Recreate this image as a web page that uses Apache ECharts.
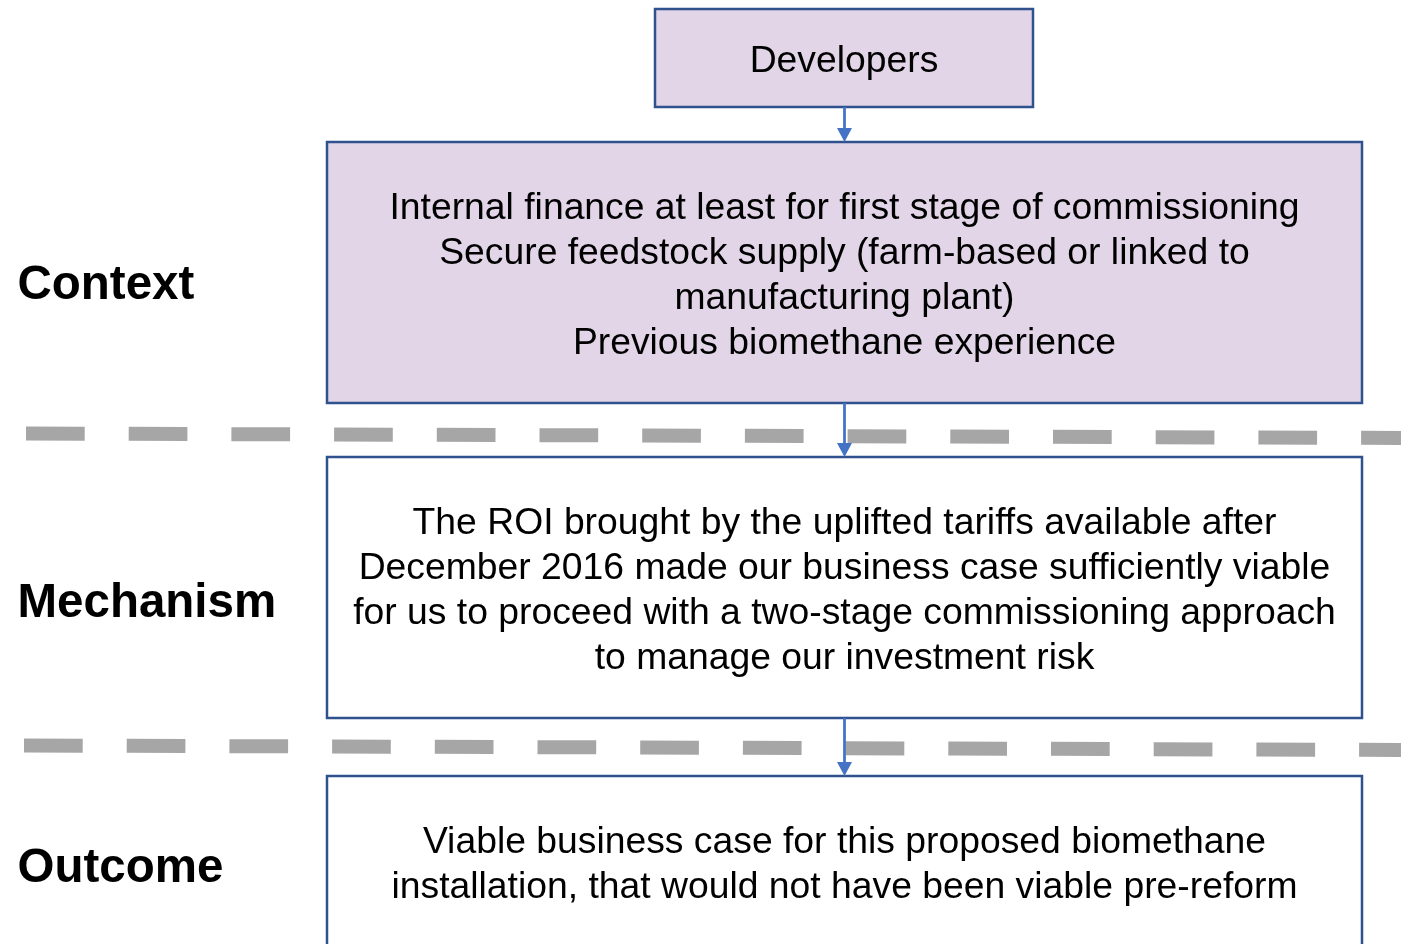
<!DOCTYPE html>
<html>
<head>
<meta charset="utf-8">
<title>Context - Mechanism - Outcome</title>
<script src="https://cdn.jsdelivr.net/npm/echarts@6/dist/echarts.min.js"></script>
<style>
  html, body { margin: 0; padding: 0; background: #ffffff; }
  #chart { width: 1401px; height: 944px; }
</style>
</head>
<body>
<div id="chart"></div>
<script>
// row labels on the left
const stageLabels = ['Context', 'Mechanism', 'Outcome']

// text of each box, top to bottom
const boxTexts = [
  'Developers',
  'Internal finance at least for first stage of commissioning\nSecure feedstock supply (farm-based or linked to\nmanufacturing plant)\nPrevious biomethane experience',
  'The ROI brought by the uplifted tariffs available after\nDecember 2016 made our business case sufficiently viable\nfor us to proceed with a two-stage commissioning approach\nto manage our investment risk',
  'Viable business case for this proposed biomethane\ninstallation, that would not have been viable pre-reform'
]

// arrows run from box i to box i+1
const links = [[0, 1], [1, 2], [2, 3]]

// ---- layout (page units, y grows downwards) ----
const boxLayout = [
  { x0: 655, y0: 9, x1: 1033, y1: 107, fill: '#E1D5E7' },
  { x0: 327, y0: 142, x1: 1362, y1: 403, fill: '#E1D5E7' },
  { x0: 327, y0: 457, x1: 1362, y1: 718, fill: '#FFFFFF' },
  { x0: 327, y0: 776, x1: 1362, y1: 946, fill: '#FFFFFF' }
]
const textShift = 4
const labelLayout = [
  { x: 17.5, y: 286 },
  { x: 17.5, y: 604 },
  { x: 17.5, y: 869 }
]
const separatorLayout = [
  [[26, 433.5], [1401, 438]],
  [[24, 745.5], [1401, 750]]
]

const FONT = '"Liberation Sans", Arial, Helvetica, sans-serif'

const chart = echarts.init(document.getElementById('chart'), null, { renderer: 'canvas' })

// 方框
const boxSeries = {
  type: 'custom',
  coordinateSystem: 'cartesian2d',
  clip: false,
  z: 3,
  silent: true,
  data: boxLayout.map((b, i) => [b.x0, b.y0, b.x1, b.y1, i]),
  renderItem: function (params, api) {
    const i = api.value(4)
    const p0 = api.coord([api.value(0), api.value(1)])
    const p1 = api.coord([api.value(2), api.value(3)])
    return {
      type: 'group',
      children: [
        {
          type: 'rect',
          shape: { x: p0[0], y: p0[1], width: p1[0] - p0[0], height: p1[1] - p0[1] },
          style: { fill: boxLayout[i].fill, stroke: '#2F528F', lineWidth: 2.5 }
        },
        {
          type: 'text',
          x: (p0[0] + p1[0]) / 2,
          y: (p0[1] + p1[1]) / 2 + textShift,
          style: {
            text: boxTexts[i],
            fontFamily: FONT,
            fontSize: 37.3,
            lineHeight: 45,
            fill: '#000000',
            align: 'center',
            verticalAlign: 'middle'
          }
        }
      ]
    }
  }
}

// 箭头
const arrowSeries = {
  type: 'custom',
  coordinateSystem: 'cartesian2d',
  clip: false,
  z: 4,
  silent: true,
  data: links.map(l => {
    const a = boxLayout[l[0]]
    const b = boxLayout[l[1]]
    return [(b.x0 + b.x1) / 2, a.y1, b.y0]
  }),
  renderItem: function (params, api) {
    const top = api.coord([api.value(0), api.value(1)])
    const tip = api.coord([api.value(0), api.value(2)])
    const head = 14
    return {
      type: 'group',
      children: [
        {
          type: 'line',
          shape: { x1: top[0], y1: top[1], x2: tip[0], y2: tip[1] - head + 1 },
          style: { stroke: '#4472C4', lineWidth: 2.75 }
        },
        {
          type: 'polygon',
          shape: { points: [[tip[0] - 7.5, tip[1] - head], [tip[0] + 7.5, tip[1] - head], [tip[0], tip[1]]] },
          style: { fill: '#4472C4' }
        }
      ]
    }
  }
}

// 左侧标签
const labelSeries = {
  type: 'custom',
  coordinateSystem: 'cartesian2d',
  clip: false,
  z: 5,
  silent: true,
  data: labelLayout.map((p, i) => [p.x, p.y, i]),
  renderItem: function (params, api) {
    const p = api.coord([api.value(0), api.value(1)])
    return {
      type: 'text',
      x: p[0],
      y: p[1],
      style: {
        text: stageLabels[api.value(2)],
        fontFamily: FONT,
        fontSize: 47.5,
        fontWeight: 'bold',
        fill: '#000000',
        align: 'left',
        verticalAlign: 'middle'
      }
    }
  }
}

// 虚线分隔
const separatorSeries = separatorLayout.map(seg => ({
  type: 'line',
  data: seg,
  symbol: 'none',
  silent: true,
  z: 1,
  lineStyle: { color: '#A6A6A6', width: 14, type: [58.7, 44], cap: 'butt' },
  animation: false
}))

const option = {
  animation: false,
  grid: { left: 0, right: 0, top: 0, bottom: 0 },
  xAxis: { type: 'value', min: 0, max: 1401, show: false },
  yAxis: { type: 'value', min: 0, max: 944, inverse: true, show: false },
  series: [...separatorSeries, boxSeries, arrowSeries, labelSeries]
}

chart.setOption(option)
window.addEventListener('resize', () => chart.resize())
</script>
</body>
</html>
